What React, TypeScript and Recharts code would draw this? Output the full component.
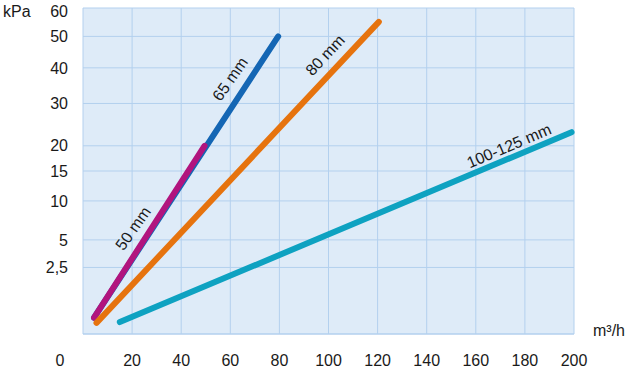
import { LineChart, Line, XAxis, YAxis, CartesianGrid, ReferenceDot } from 'recharts';

// flow (m³/h) and pressure loss (kPa)
const flowTicks = [0, 20, 40, 60, 80, 100, 120, 140, 160, 180, 200];
const pressureTicks = [2.5, 5, 10, 15, 20, 30, 40, 50, 60];

const dn50 = [{ q: 4.5, p: 0.15 }, { q: 49.5, p: 20 }];
const dn65 = [{ q: 4.5, p: 0.15 }, { q: 79.5, p: 50 }];
const dn80 = [{ q: 5.5, p: 0.07 }, { q: 120.5, p: 55 }];
const dn100 = [{ q: 15, p: 0.08 }, { q: 199, p: 23 }];

const labelNames = ['50 mm', '65 mm', '80 mm', '100-125 mm'];
const labelQ = [20.4, 59.9, 98.6, 173.5];
const labelP = [6.3, 36.7, 43.9, 20];
const labelAngles = [-55, -55, -47, -23];

const FONT = '"Liberation Sans", Arial, Helvetica, sans-serif';
const gridColor = '#b3d0ee';
const textColor = '#1a1a1a';

const FlowTick = (props: any) => {
    const { x, y, payload } = props;
    const shift = payload.value === 0 ? -23 : 0;
    return (
        <text x={x + shift} y={y} dy="0.71em" textAnchor="middle" fill={textColor} fontSize={16} fontFamily={FONT}>
            {payload.value}
        </text>
    );
};

const PressureTick = (props: any) => {
    const { x, y, payload } = props;
    return (
        <text x={x} y={Math.max(y, 11)} dy="0.355em" textAnchor="end" fill={textColor} fontSize={16} fontFamily={FONT}>
            {String(payload.value).replace('.', ',')}
        </text>
    );
};

const curveLabel = (text: string, angle: number) => (props: any) => {
    const { cx, cy } = props;
    return (
        <text x={cx} y={cy} transform={`rotate(${angle}, ${cx}, ${cy})`} textAnchor="middle" dominantBaseline="central"
            fill={textColor} fontSize={16} fontFamily={FONT}>
            {text}
        </text>
    );
};

export default function App() {
    return (
        <div style={{ position: 'absolute', left: 0, top: 0, width: 630, height: 374, background: '#fff' }}>
            <LineChart width={630} height={374} margin={{ top: 8, right: 56, bottom: 0, left: 0 }}>
                <CartesianGrid fill="#deebf8" stroke={gridColor} strokeWidth={1} />
                <XAxis type="number" dataKey="q" domain={[0, 200]} ticks={flowTicks} interval={0} height={40}
                    axisLine={{ stroke: gridColor }} tickLine={false} tickMargin={15} tick={<FlowTick />} />
                <YAxis type="number" dataKey="p" scale="sqrt" domain={[0, 60]} ticks={pressureTicks} interval={0} width={83}
                    axisLine={false} tickLine={false} tickMargin={9} tick={<PressureTick />} />
                <Line data={dn65} dataKey="p" stroke="#1466b4" strokeWidth={6} strokeLinecap="round" dot={false} activeDot={false} isAnimationActive={false} />
                <Line data={dn50} dataKey="p" stroke="#b1147e" strokeWidth={6} strokeLinecap="round" dot={false} activeDot={false} isAnimationActive={false} />
                <Line data={dn80} dataKey="p" stroke="#e6730e" strokeWidth={6} strokeLinecap="round" dot={false} activeDot={false} isAnimationActive={false} />
                <Line data={dn100} dataKey="p" stroke="#0ea2c1" strokeWidth={6} strokeLinecap="round" dot={false} activeDot={false} isAnimationActive={false} />
                {labelNames.map((name, i) => (
                    <ReferenceDot key={name} x={labelQ[i]} y={labelP[i]} r={0} shape={curveLabel(name, labelAngles[i])} />
                ))}
                <text x={3} y={11} dominantBaseline="central" fill={textColor} fontSize={16} fontFamily={FONT}>kPa</text>
                <text x={593} y={330} dominantBaseline="central" fill={textColor} fontSize={16} fontFamily={FONT}>m³/h</text>
            </LineChart>
        </div>
    );
}
